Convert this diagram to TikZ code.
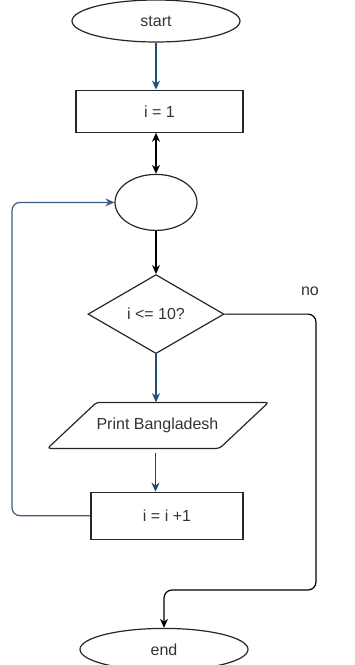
\documentclass[tikz,border=0pt]{standalone}
\usepackage{fontspec}
\setmainfont{Liberation Sans}
\usepackage{xcolor}
\usetikzlibrary{arrows.meta, positioning, shapes.geometric}

\definecolor{flowblue}{RGB}{31,78,121}
\definecolor{printblue}{RGB}{28,74,118}
\definecolor{loopblue}{RGB}{62,92,128}
\definecolor{txtgray}{RGB}{51,51,51}

\begin{document}
\begin{tikzpicture}[
      font=\fontsize{16}{19}\selectfont,
      every node/.style={text=txtgray},
      shapeline/.style={draw=black!85, line width=1.2pt, inner sep=0pt},
      term/.style={shapeline, ellipse, minimum width=168pt, minimum height=42pt},
      junct/.style={shapeline, ellipse, minimum width=82pt, minimum height=56pt},
      proc/.style={shapeline, rectangle, minimum width=167pt, minimum height=42pt},
      decis/.style={shapeline, diamond, aspect=1.72, minimum width=136pt,
                    minimum height=79pt},
      io/.style={rectangle, inner sep=0pt, minimum height=46pt,
                 minimum width=172pt},
      arr/.style={-{Stealth[length=9pt, width=8pt]}, line width=1.2pt},
      barr/.style={arr, draw=flowblue},
      karr/.style={arr, draw=black}
    ]
    \useasboundingbox (0pt,0pt) rectangle (355pt,-665pt);

    \node[term] (start) at (156pt,-21pt) {start};
    \node[proc, below=47pt of start, xshift=3.5pt] (init) {i = 1};
    \node[junct, below=41pt of init, xshift=-3.5pt] (join) {};
    \node[decis, below=43pt of join] (test) {i <= 10?};
    \node[io, below=48pt of test, xshift=1.5pt] (print) {Print Bangladesh};
    \node[proc, below=43pt of print, xshift=9.5pt, minimum width=152pt,
          minimum height=47pt] (incr) {i = i +1};
    \node[term, below=88pt of incr, xshift=-3pt] (end) {end};
    \node (nolab) at (310pt,-291pt) {no};

    % parallelogram round the print node
    \draw[shapeline, rounded corners=3pt]
      ([shift={(-110pt,-23pt)}]print.center) -- ([shift={(62pt,-23pt)}]print.center)
      -- ([shift={(111pt,23pt)}]print.center) -- ([shift={(-61pt,23pt)}]print.center)
      -- cycle;

    \coordinate (loopL) at (12pt,-516pt);
    \coordinate (noR) at (316pt,-590pt);

    \draw[printblue, line width=1.2pt, -{Stealth[length=9pt, width=8pt]}]
      ([xshift=-2pt, yshift=-4pt]print.south) -- ([xshift=-2pt]print.south |- incr.north);
    \draw[barr] (start.south) -- (start.south |- init.north);
    \draw[karr, {Stealth[length=9pt, width=8pt]}-{Stealth[length=9pt, width=8pt]}]
      (join.north |- init.south) -- (join.north);
    \draw[karr] (join) -- (test);
    \draw[barr] (test.south) -- (test.south |- print.north);
    % loop back
    \draw[arr, draw=loopblue, rounded corners=8pt]
      (incr.west) -| (loopL |- join) -- (join.west);
    % exit branch
    \draw[karr, rounded corners=8pt] (test.east) -| (noR) -| (end.north);
  \end{tikzpicture}
\end{document}
